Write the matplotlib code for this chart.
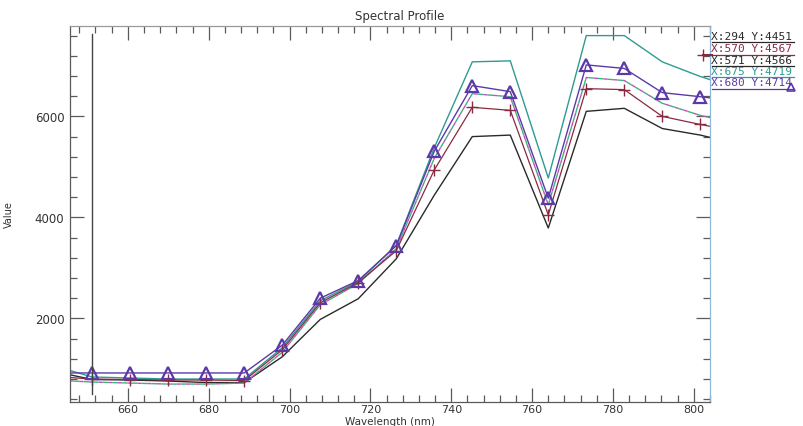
import matplotlib
matplotlib.use("Agg")
import matplotlib.pyplot as plt
from matplotlib.ticker import MultipleLocator

# ---- data ----
wavelength = [641.8, 651.2, 660.6, 670.0, 679.4, 688.8, 698.2, 707.6, 717.0, 726.4,
              735.8, 745.2, 754.6, 764.0, 773.4, 782.8, 792.2, 801.6, 811.0]
px294 = [950, 790, 780, 760, 730, 730, 1240, 1980, 2390, 3180,
         4440, 5600, 5630, 3790, 6100, 6160, 5760, 5630, 5450]
px570 = [850, 800, 790, 780, 780, 770, 1380, 2310, 2710, 3340,
         4940, 6180, 6120, 4050, 6550, 6530, 6000, 5840, 5700]
px571 = [780, 740, 720, 700, 700, 720, 1330, 2270, 2690, 3380,
         5170, 6450, 6390, 4250, 6770, 6710, 6260, 6020, 5850]
px675 = [1060, 840, 820, 800, 800, 800, 1420, 2350, 2730, 3450,
         5380, 7080, 7100, 4780, 7600, 7600, 7080, 6790, 6550]
px680 = [920, 920, 920, 920, 920, 920, 1470, 2400, 2750, 3440,
         5310, 6610, 6490, 4380, 7020, 6950, 6470, 6390, 6300]
legend_labels = ["X:294 Y:4451", "X:570 Y:4567", "X:571 Y:4566", "X:675 Y:4719", "X:680 Y:4714"]
cursor_x = 651.2

C_BLACK = "#2a2a2a"
C_RED = "#8a2a40"
C_GREEN = "#3cb37a"
C_TEAL = "#2f9a92"
C_PURPLE = "#5b3aa8"
AX = "#5a5a5a"

fig = plt.figure(figsize=(8.04, 4.27), dpi=100)
ax = fig.add_axes([70/804, 24/427, 640/804, 376/427])

ax.plot(wavelength, px675, color=C_TEAL, lw=1.0)
ax.plot(wavelength, px294, color=C_BLACK, lw=1.0)
ax.plot(wavelength, px571, color=C_GREEN, lw=1.0, ls=(0, (4, 3)), gapcolor="#c050c0")
ax.plot(wavelength, px570, color=C_RED, lw=0.9, marker="+", ms=8, mew=1.0)
ax.plot(wavelength, px680, color=C_PURPLE, lw=1.0, marker="^", ms=9,
        mfc="none", mec=C_PURPLE, mew=1.6)

ax.axvline(cursor_x, ymin=0.021, ymax=0.979, color="#444444", lw=1.0)

ax.set_xlim(645.7, 804)
ax.set_ylim(345, 7790)
ax.xaxis.set_major_locator(MultipleLocator(20))
ax.xaxis.set_minor_locator(MultipleLocator(4))
ax.yaxis.set_major_locator(MultipleLocator(2000))
ax.yaxis.set_minor_locator(MultipleLocator(400))
ax.tick_params(which="both", direction="in", top=True, right=True, colors=AX,
               labelcolor="#333333", labelsize=8.5, width=0.9)
ax.tick_params(axis="x", labelsize=8)
ax.tick_params(which="major", length=10)
ax.tick_params(which="minor", length=5)
ax.tick_params(axis="x", pad=1.5)
ax.tick_params(axis="y", pad=4)
for s in ax.spines.values():
    s.set_color(AX)
    s.set_linewidth(0.9)
ax.spines["right"].set_color("#8fb8d8")
ax.spines["top"].set_color("#9a9a9a")

ax.set_title("Spectral Profile", fontsize=8.5, color="#333333", pad=5, x=0.515)
ax.set_xlabel("Wavelength (nm)", fontsize=7.5, color="#333333")
ax.xaxis.set_label_coords(0.5, -0.036)
ax.set_ylabel("Value", fontsize=7, color="#333333")
ax.yaxis.set_label_coords(-0.087, 0.5)

# legend text block at the right of the plot
leg_colors = [C_BLACK, C_RED, C_BLACK, C_TEAL, C_PURPLE]
ys = [36.5, 49.5, 60.5, 72, 83.5]
for lab, col, y in zip(legend_labels, leg_colors, ys):
    fig.text(711/804, 1 - y/427, lab, fontsize=8, color=col, va="center", ha="left",
             family="DejaVu Sans Mono")
    fig.add_artist(plt.Line2D([712/804, 794/804], [1 - (y + 6)/427] * 2,
                              color=col, lw=0.9, transform=fig.transFigure))
fig.add_artist(plt.Line2D([703/804, 712/804], [1 - 55.5/427] * 2, marker="+", ms=8,
                          color=C_RED, transform=fig.transFigure, markevery=[0]))
fig.add_artist(plt.Line2D([791/804], [1 - 88/427], marker="^", ms=6, mfc="none",
                          mec=C_PURPLE, mew=1.2, transform=fig.transFigure))

fig.savefig("out.png", dpi=100)
